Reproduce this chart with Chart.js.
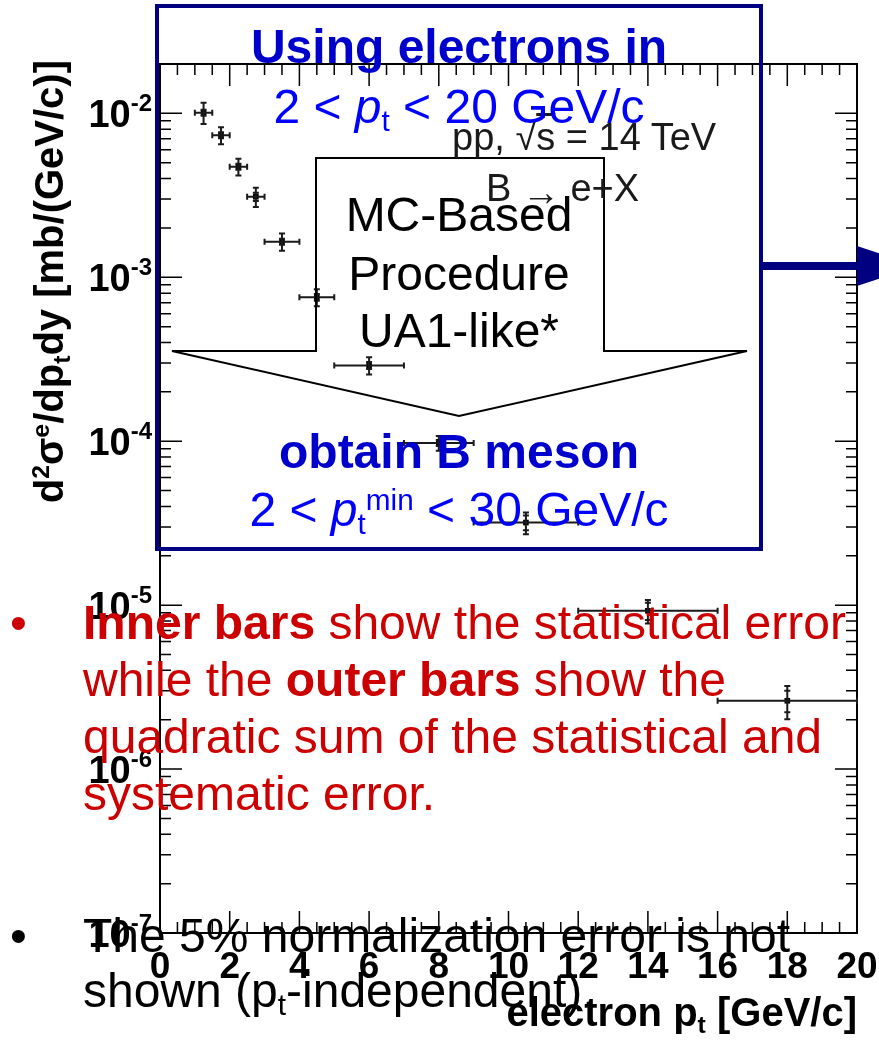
<!DOCTYPE html>
<html>
<head>
<meta charset="utf-8">
<title>B -> e+X</title>
<script src="https://cdn.jsdelivr.net/npm/chart.js@4.4.1/dist/chart.umd.min.js"></script>
<style>
  body { margin: 0; background: #fff; }
  #tela { position: relative; width: 879px; height: 1044px; overflow: hidden; font-family: "Liberation Sans", Arial, Helvetica, sans-serif; }
  #grafico, #formas { position: absolute; left: 0; top: 0; }
  .t { position: absolute; white-space: nowrap; line-height: 1; }
  sub, sup { line-height: 0; font-size: 0.62em; }
  sub { vertical-align: -0.28em; }
  sup { vertical-align: 0.55em; }
  .azul { color: #0000ff; }
  .azulB { color: #0000cc; font-weight: bold; }
  .verm { color: #cc0000; }
  .caixa { left: 157px; width: 604px; text-align: center; font-size: 48px; }
  .seta { left: 259px; width: 400px; text-align: center; font-size: 48px; }
</style>
</head>
<body>
<div id="tela">
  <canvas id="grafico" width="879" height="1044"></canvas>

  <svg id="formas" width="879" height="1044">
    <rect x="157" y="6" width="604" height="543" fill="none" stroke="#000080" stroke-width="4"/>
    <polygon points="316,158 604,158 604,351 747,351 459,416 172,351 316,351" fill="none" stroke="#000" stroke-width="2"/>
    <line x1="763" y1="266" x2="860" y2="266" stroke="#000080" stroke-width="8"/>
    <polygon points="857,246 857,286 918,266" fill="#000080"/>
  </svg>

  <!-- textos do grafico -->
  <div class="t" style="left:29px; top:505px; width:445px; text-align:right; font-weight:bold; font-size:40px; transform-origin:0 0; transform:rotate(-90deg);">d<sup>2</sup>σ<sup>e</sup>/dp<sub>t</sub>dy [mb/(GeV/c)]</div>
  <div class="t" style="right:22px; top:992px; font-weight:bold; font-size:40px;">electron p<sub>t</sub> [GeV/c]</div>
  <div class="t" style="left:452px; top:118px; font-size:38px; color:#1a1a1a;">pp, √<span style="text-decoration:overline">s</span> = 14 TeV</div>
  <div class="t" style="left:486px; top:169px; font-size:38px; color:#1a1a1a;">B <span style="position:relative; top:4px">→</span> e+X</div>

  <!-- caixa azul -->
  <div class="t caixa azulB" style="top:23px;">Using electrons in</div>
  <div class="t caixa azul" style="top:83px;">2 &lt; <i>p</i><sub>t</sub> &lt; 20 GeV/c</div>
  <div class="t caixa azulB" style="top:428px;">obtain B meson</div>
  <div class="t caixa azul" style="top:486px;">2 &lt; <i>p</i><sub>t</sub><sup>min</sup> &lt; 30 GeV/c</div>

  <!-- seta -->
  <div class="t seta" style="top:191px;">MC-Based</div>
  <div class="t seta" style="top:250px;">Procedure</div>
  <div class="t seta" style="top:307px;">UA1-like*</div>

  <!-- bullets -->
  <div class="t verm" style="left:10px; top:594px; font-size:48px; line-height:57px;">•</div>
  <div class="t verm" style="left:83px; top:594px; font-size:48px; line-height:57px;"><b>Inner bars</b> show the statistical error<br>while the <b>outer bars</b> show the<br>quadratic sum of the statistical and<br>systematic error.</div>
  <div class="t" style="left:10px; top:908px; font-size:48px; line-height:55px;">•</div>
  <div class="t" style="left:83px; top:908px; font-size:48px; line-height:55px;">The 5% normalization error is not<br>shown (p<sub>t</sub>-independent).</div>
</div>

<script>
// valores: pt [GeV/c] e d2sigma/dpt dy [mb/(GeV/c)]
const ptCentro = [1.25, 1.75, 2.25, 2.75, 3.5, 4.5, 6, 8, 10.5, 14, 18];
const ptMeiaLargura = [0.25, 0.25, 0.25, 0.25, 0.5, 0.5, 1, 1, 1.5, 2, 2];
const secaoChoque = [1.01e-2, 7.36e-3, 4.73e-3, 3.10e-3, 1.65e-3, 7.55e-4, 2.90e-4, 9.75e-5, 3.19e-5, 9.23e-6, 2.61e-6];
const erroEstat = [4.3e-4, 3.2e-4, 2.0e-4, 1.8e-4, 7.0e-5, 3.5e-5, 1.4e-5, 4.1e-6, 3.3e-6, 1.1e-6, 3.9e-7];
const erroTotal = [1.5e-3, 8.8e-4, 5.6e-4, 4.2e-4, 2.0e-4, 9.0e-5, 3.5e-5, 1.0e-5, 4.8e-6, 1.5e-6, 6.0e-7];

const ticksX = [0, 2, 4, 6, 8, 10, 12, 14, 16, 18, 20];
const decadasY = [-7, -6, -5, -4, -3, -2];

const fonte = '"Liberation Sans", Arial, sans-serif';

function linha(ctx, x0, y0, x1, y1) {
  ctx.moveTo(x0, y0);
  ctx.lineTo(x1, y1);
}

// moldura estilo ROOT: ticks para dentro nos 4 lados + labels
const moldura = {
  id: "moldura",
  beforeDatasetsDraw(chart) {
    let ctx = chart.ctx;
    let area = chart.chartArea;
    let x = chart.scales.x;
    let y = chart.scales.y;
    ctx.save();
    ctx.strokeStyle = "#000";
    ctx.lineWidth = 2;
    ctx.strokeRect(area.left, area.top, area.right - area.left, area.bottom - area.top);

    ctx.lineWidth = 1.5;
    ctx.beginPath();
    for (let v = 0; v <= 20; v += 0.5) {
      let px = x.getPixelForValue(v);
      let tam = v % 2 == 0 ? 22 : 11;
      linha(ctx, px, area.bottom, px, area.bottom - tam);
      linha(ctx, px, area.top, px, area.top + tam);
    }
    decadasY.forEach((d) => {
      for (let k = 1; k <= 9; k++) {
        let v = k * Math.pow(10, d);
        if (v > y.max * 1.001) break;
        let py = y.getPixelForValue(v);
        let tam = k == 1 ? 22 : 11;
        linha(ctx, area.left, py, area.left + tam, py);
        linha(ctx, area.right, py, area.right - tam, py);
      }
    });
    ctx.stroke();

    ctx.fillStyle = "#000";
    ctx.textBaseline = "alphabetic";
    ctx.textAlign = "center";
    ctx.font = "bold 37px " + fonte;
    ticksX.forEach((v) => {
      ctx.fillText(String(v), x.getPixelForValue(v), 978);
    });

    ctx.textAlign = "left";
    decadasY.forEach((d) => {
      let py = y.getPixelForValue(Math.pow(10, d));
      let expoente = String(d);
      ctx.font = "bold 24px " + fonte;
      let wExp = ctx.measureText(expoente).width;
      ctx.font = "bold 38px " + fonte;
      let wBase = ctx.measureText("10").width;
      let dir = area.left - 8;
      ctx.fillText("10", dir - wExp - wBase, py + 14);
      ctx.font = "bold 24px " + fonte;
      ctx.fillText(expoente, dir - wExp, py - 2);
    });
    ctx.restore();
  },
};

// barras de erro: horizontal = largura do bin, vertical interna = estat, externa = total
const barrasErro = {
  id: "barrasErro",
  afterDatasetsDraw(chart) {
    let ctx = chart.ctx;
    let x = chart.scales.x;
    let y = chart.scales.y;
    ctx.save();
    ctx.strokeStyle = "#1a1a1a";
    ctx.lineWidth = 2;
    ctx.beginPath();
    ptCentro.forEach((pt, i) => {
      let px = x.getPixelForValue(pt);
      let py = y.getPixelForValue(secaoChoque[i]);
      let x0 = x.getPixelForValue(pt - ptMeiaLargura[i]);
      let x1 = x.getPixelForValue(pt + ptMeiaLargura[i]);
      linha(ctx, x0, py, x1, py);
      linha(ctx, x0, py - 3, x0, py + 3);
      linha(ctx, x1, py - 3, x1, py + 3);

      let yTop = y.getPixelForValue(secaoChoque[i] + erroTotal[i]);
      let yBot = y.getPixelForValue(secaoChoque[i] - erroTotal[i]);
      linha(ctx, px, yTop, px, yBot);
      linha(ctx, px - 3, yTop, px + 3, yTop);
      linha(ctx, px - 3, yBot, px + 3, yBot);

      let sTop = y.getPixelForValue(secaoChoque[i] + erroEstat[i]);
      let sBot = y.getPixelForValue(secaoChoque[i] - erroEstat[i]);
      linha(ctx, px - 3, sTop, px + 3, sTop);
      linha(ctx, px - 3, sBot, px + 3, sBot);
    });
    ctx.stroke();
    ctx.restore();
  },
};

let pontos = ptCentro.map((pt, i) => ({ x: pt, y: secaoChoque[i] }));

new Chart(document.getElementById("grafico"), {
  type: "scatter",
  data: {
    datasets: [
      {
        data: pontos,
        pointStyle: "rect",
        pointRadius: 4,
        backgroundColor: "#000",
        borderWidth: 0,
      },
    ],
  },
  options: {
    responsive: false,
    animation: false,
    devicePixelRatio: 1,
    layout: { padding: { left: 160, right: 22, top: 64, bottom: 111 } },
    plugins: { legend: { display: false }, tooltip: { enabled: false } },
    scales: {
      x: { type: "linear", min: 0, max: 20, display: false },
      y: { type: "logarithmic", min: 1e-7, max: 2e-2, display: false },
    },
  },
  plugins: [moldura, barrasErro],
});
</script>
</body>
</html>
